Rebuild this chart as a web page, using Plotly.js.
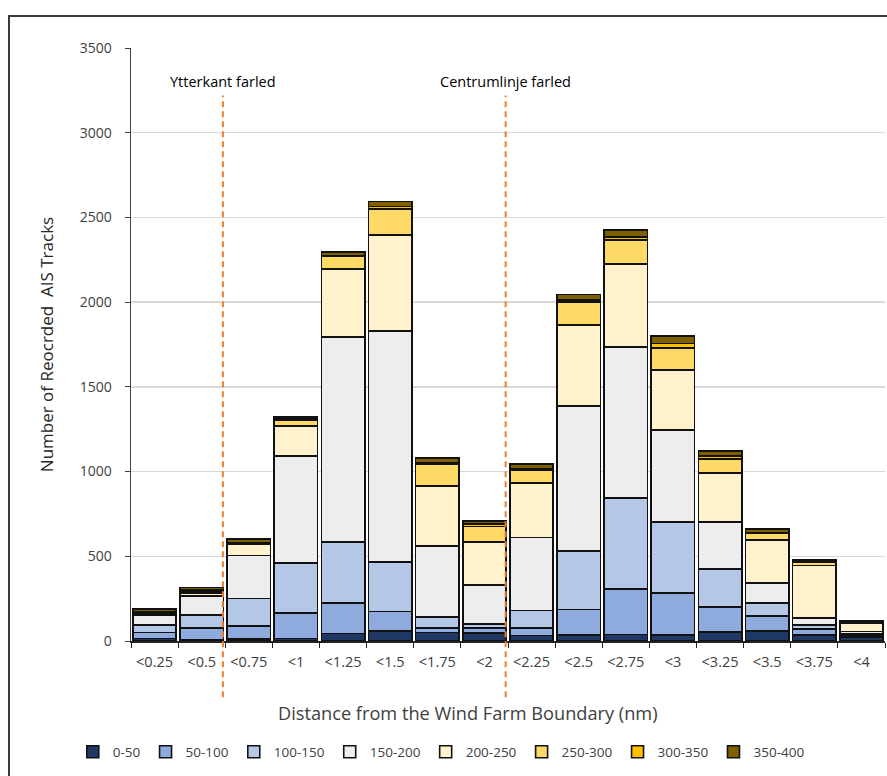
<!DOCTYPE html>
<html><head><meta charset="utf-8">
<script src="https://cdn.plot.ly/plotly-3.0.1.min.js"></script>
<style>
html,body{margin:0;padding:0;background:#fff;}
#wrap{position:relative;width:887px;height:776px;overflow:hidden;}
#chart{position:absolute;left:0;top:0;width:887px;height:776px;}
#frame{position:absolute;left:8px;top:15px;width:900px;height:800px;border-left:2px solid #3a3a3a;border-top:2px solid #3a3a3a;pointer-events:none;}
</style></head>
<body><div id="wrap"><div id="chart"></div><div id="frame"></div></div>
<script>
const categories = ['<0.25','<0.5','<0.75','<1','<1.25','<1.5','<1.75','<2','<2.25','<2.5','<2.75','<3','<3.25','<3.5','<3.75','<4'];
const seriesNames = ['0-50','50-100','100-150','150-200','200-250','250-300','300-350','350-400'];
const s0_50    = [15,10,12,15,45,58,50,47,33,35,38,35,53,59,35,20];
const s50_100  = [35,65,75,150,180,117,27,30,42,150,268,248,147,89,36,10];
const s100_150 = [45,80,165,295,360,290,65,23,105,345,538,419,225,76,23,10];
const s150_200 = [55,110,253,632,1210,1365,420,230,430,857,891,543,277,118,42,15];
const s200_250 = [10,20,65,178,400,565,353,255,322,478,490,355,290,254,310,50];
const s250_300 = [8,10,5,35,75,155,130,90,77,136,142,130,82,41,20,5];
const s300_350 = [5,5,5,5,5,15,5,15,8,10,18,25,18,4,2,2];
const s350_400 = [15,15,22,12,22,30,30,18,28,35,40,45,30,20,10,6];
const yTicks = [0,500,1000,1500,2000,2500,3000,3500];
const markerLabels = ['Ytterkant farled','Centrumlinje farled'];
const markerPositions = [1.45,7.45];

const seriesValues = [s0_50,s50_100,s100_150,s150_200,s200_250,s250_300,s300_350,s350_400];
const colors = ['#1F3864','#8FAADC','#B4C7E7','#EDEDED','#FFF2CC','#FFD966','#FFC000','#7F6000'];
const font = 'Open Sans, Noto Sans, sans-serif';

const traces = seriesNames.map((n,i)=>({
  type:'bar', name:n, x:categories, y:seriesValues[i],
  marker:{color:colors[i], line:{color:'#111', width:1.6}},
  hoverinfo:'skip'
}));

const shapes = markerPositions.map(p=>({
  type:'line', xref:'x', yref:'paper', x0:p, x1:p, y0:-0.095, y1:0.92,
  line:{color:'#ED7D31', width:2, dash:'6px,4px'}
}));
const annotations = markerLabels.map((t,i)=>({
  text:t, xref:'x', yref:'paper', x:markerPositions[i], y:0.943, showarrow:false,
  xanchor:'center', yanchor:'middle', font:{family:font, size:14.5, color:'#000'}
}));
annotations.push({
  text:'Distance from the Wind Farm Boundary (nm)', xref:'paper', yref:'paper',
  x:0.447, y:-0.122, showarrow:false, xanchor:'center', yanchor:'middle',
  font:{family:font, size:18.2, color:'#404040'}
});

const layout = {
  width:887, height:776,
  margin:{l:131, r:2, t:48, b:135},
  paper_bgcolor:'#fff', plot_bgcolor:'#fff',
  barmode:'stack', bargap:0.08,
  font:{family:font, color:'#595959'},
  xaxis:{type:'category', tickson:'boundaries', ticks:'outside', ticklen:5, tickcolor:'#222',
    showline:true, linecolor:'#222', linewidth:2, showgrid:false, ticklabelstandoff:7,
    tickfont:{family:font, size:14.5, color:'#404040'}},
  yaxis:{range:[0,3500], tickvals:yTicks, ticks:'outside', ticklen:5, tickcolor:'#404040',
    showline:true, linecolor:'#404040', linewidth:1.5, ticklabelstandoff:10,
    gridcolor:'#D9D9D9', gridwidth:1.5, zeroline:false,
    tickfont:{family:font, size:14, color:'#404040'},
    title:{text:'Number of Reocrded\u00a0 AIS Tracks', standoff:21, font:{family:font, size:17, color:'#262626'}}},
  legend:{orientation:'h', xref:'container', yref:'container', x:0.4975, y:0.031,
    xanchor:'center', yanchor:'middle', font:{family:font, size:13.5, color:'#404040'},
    traceorder:'normal', itemwidth:30},
  shapes:shapes, annotations:annotations, showlegend:true
};
Plotly.newPlot('chart', traces, layout, {displayModeBar:false, staticPlot:true});
</script></body></html>
